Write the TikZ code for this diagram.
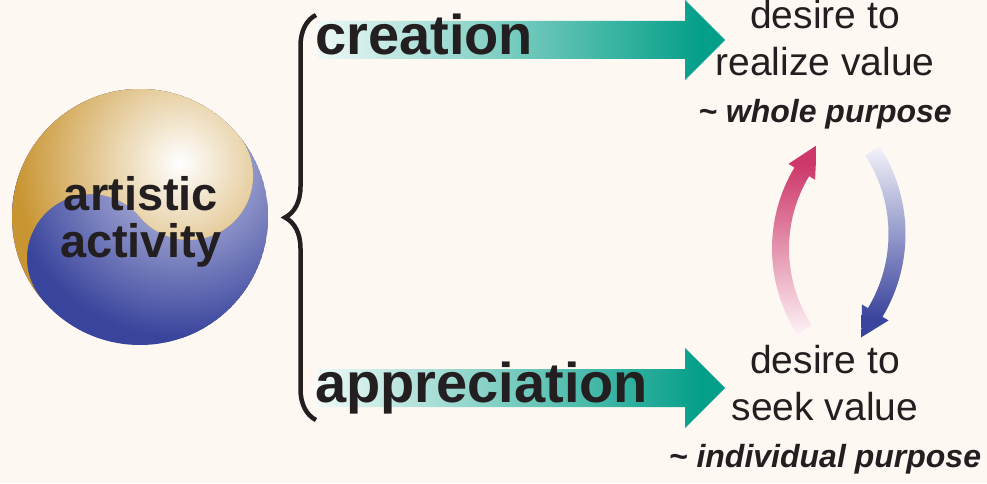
\documentclass[tikz,border=0pt]{standalone}
\usepackage{fontspec}
\setmainfont{Liberation Sans}
\usetikzlibrary{calc, decorations.pathreplacing}

\definecolor{paper}{RGB}{253,248,242}
\definecolor{ink}{RGB}{35,31,32}
\definecolor{gold}{RGB}{201,149,50}
\definecolor{indigo}{RGB}{57,68,156}
\definecolor{indigopale}{RGB}{205,208,234}
\definecolor{indigomist}{RGB}{243,243,250}
\definecolor{jade}{RGB}{4,159,137}
\definecolor{jadepale}{RGB}{238,249,247}
\definecolor{rose}{RGB}{205,55,106}
\definecolor{rosepale}{RGB}{252,242,246}

% the path box takes the middle half (25bp to 75bp) of each shading
\pgfdeclarehorizontalshading{jadefade}{100bp}{color(0bp)=(jadepale); color(25bp)=(jadepale); color(72bp)=(jade); color(100bp)=(jade)}
\pgfdeclareverticalshading{rosefade}{100bp}{color(0bp)=(rosepale); color(25bp)=(rosepale); color(70bp)=(rose); color(100bp)=(rose)}
\pgfdeclareverticalshading{indigofade}{100bp}{color(0bp)=(indigo); color(30bp)=(indigo); color(75bp)=(indigomist); color(100bp)=(indigomist)}

\begin{document}
\begin{tikzpicture}[x=1pt, y=1pt,
  wish/.style={font=\fontsize{39}{47}\selectfont, text=ink, align=center, anchor=base, inner sep=0},
  aim/.style={font=\fontsize{32}{38}\selectfont\bfseries\itshape, text=ink, anchor=base, inner sep=0},
  deed/.style={font=\fontsize{56}{60}\selectfont\bfseries, text=ink, anchor=base west, inner sep=0}]

 %%%  background
 \useasboundingbox (0,0) rectangle (987,483);
 \fill[paper] (0,0) rectangle (987,483);

 %%%  ball

 % blue half, then gold half on top
 \coordinate (o) at (140,266);
 \coordinate (shine) at (180,320);
 \begin{scope}
  \clip (o) circle (128);
  \fill[indigo] (o) circle (128);
  \shade[inner color=indigopale, outer color=indigo] (shine) circle (175);
 \end{scope}
 \begin{scope}
  \clip (o) ++(40:128) arc[start angle=40, end angle=220, radius=128]
        arc[start angle=220, end angle=40, radius=64]
        arc[start angle=220, end angle=400, radius=64] -- cycle;
  \fill[gold] (o) circle (128);
  \shade[inner color=white, outer color=gold] (shine) circle (165);
 \end{scope}
 \node[font=\fontsize{47}{47}\selectfont\bfseries, text=ink, align=center, anchor=base, inner sep=0] (art) at (141,226) {artistic\\activity};

 %%%  brace
 \draw[ink, line width=4.5, decorate, decoration={brace, amplitude=31pt}] (316,63) -- (316,468);

 %%%  green arrows
 \coordinate (maketip) at (725,443);
 \coordinate (enjoytip) at (725,95);
 \shade[shading=jadefade] (maketip) ++(-407,-19) -- ++(367,0) -- ++(0,-21) -- (maketip)
   -- ++(-40,40) -- ++(0,-21) -- ++(-367,0) -- cycle;
 \shade[shading=jadefade] (enjoytip) ++(-407,-19) -- ++(367,0) -- ++(0,-21) -- (enjoytip)
   -- ++(-40,40) -- ++(0,-21) -- ++(-367,0) -- cycle;
 \node[deed] (make) at (315,428) {creation};
 \node[deed] (enjoy) at (315,81) {appreciation};

 %%%  right texts
 \node[wish] (realize) at (825,407) {desire to\\realize value};
 \node[aim] (whole) at (825,360) {\textasciitilde{} whole purpose};
 \node[wish] (seek) at (825,63) {desire to\\seek value};
 \node[aim] (single) at (825,16) {\textasciitilde{} individual purpose};

 %%%  curved arrows
 \coordinate (rc) at (929.5,234.4);
 \coordinate (bc) at (744.5,249.1);
 \shade[shading=rosefade] ($(rc)+(213:157.5)$) arc[start angle=213, end angle=149, radius=157.5]
   -- ($(rc)+(149:164.5)$) -- ($(rc)+(137.5:153)$) -- ($(rc)+(149:133.5)$)
   -- ($(rc)+(149:140.5)$) arc[start angle=149, end angle=213, radius=140.5] -- cycle;
 \shade[shading=indigofade] ($(bc)+(33:144)$) arc[start angle=33, end angle=-31, radius=144]
   -- ($(bc)+(-31:137)$) -- ($(bc)+(-41.5:156)$) -- ($(bc)+(-31:168)$)
   -- ($(bc)+(-31:161)$) arc[start angle=-31, end angle=33, radius=161] -- cycle;

 \end{tikzpicture}
\end{document}
